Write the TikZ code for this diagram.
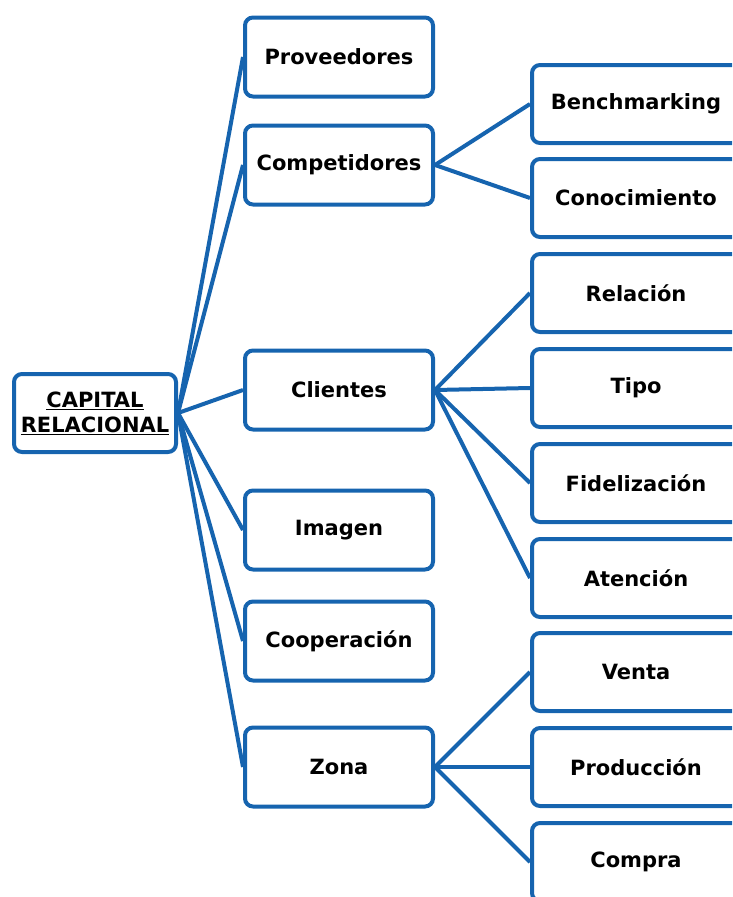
\documentclass[tikz,border=0pt]{standalone}
\usepackage{fontspec}
\setmainfont{DejaVu Sans}
\usetikzlibrary{positioning}
\definecolor{boxblue}{RGB}{22,100,175}
\tikzset{
  rbox/.style={draw=boxblue, line width=4pt, rounded corners=8pt, fill=white, align=center, inner sep=0pt, font=\fontsize{21}{25}\selectfont\bfseries},
  root_n/.style={rbox, minimum width=162pt, minimum height=78pt},
  lvl_a/.style={rbox, minimum width=188pt, minimum height=79pt},
  lvl_b/.style={rbox, minimum width=208pt, minimum height=78pt},
  link/.style={draw=boxblue, line width=4pt}
}

\begin{document}
\begin{tikzpicture}[x=1pt,y=-1pt]
  \useasboundingbox (0,0) rectangle (732,897);
  \clip (0,0) rectangle (732,897);
  % root
  \node [root_n] (capital) at (95,413) {\underline{CAPITAL}\\\underline{RELACIONAL}};
  % first level
  \node [lvl_a] (prov) at (339,57) {Proveedores};
  \node [lvl_a] (comp) at (339,165) {Competidores};
  \node [lvl_a] (cli) at (339,390) {Clientes};
  \node [lvl_a] (img) at (339,530) {Imagen};
  \node [lvl_a] (coop) at (339,641) {Cooperación};
  \node [lvl_a] (zona) at (339,767) {Zona};
  % second level
  \node [lvl_b] (bench) at (636,104) {Benchmarking};
  \node [lvl_b] (conoc) at (636,198) {Conocimiento};
  \node [lvl_b] (rel) at (636,293) {Relación};
  \node [lvl_b] (tipo) at (636,388) {Tipo};
  \node [lvl_b] (fidel) at (636,483) {Fidelización};
  \node [lvl_b] (aten) at (636,578) {Atención};
  \node [lvl_b] (venta) at (636,672) {Venta};
  \node [lvl_b] (prod) at (636,767) {Producción};
  \node [lvl_b] (compra) at (636,862) {Compra};
  % connectors
  \foreach \n in {prov,comp,cli,img,coop,zona}
    \draw [link] (capital.east) -- (\n.west);
  \foreach \n in {bench,conoc}
    \draw [link] (comp.east) -- (\n.west);
  \foreach \n in {rel,tipo,fidel,aten}
    \draw [link] (cli.east) -- (\n.west);
  \foreach \n in {venta,prod,compra}
    \draw [link] (zona.east) -- (\n.west);
\end{tikzpicture}
\end{document}
